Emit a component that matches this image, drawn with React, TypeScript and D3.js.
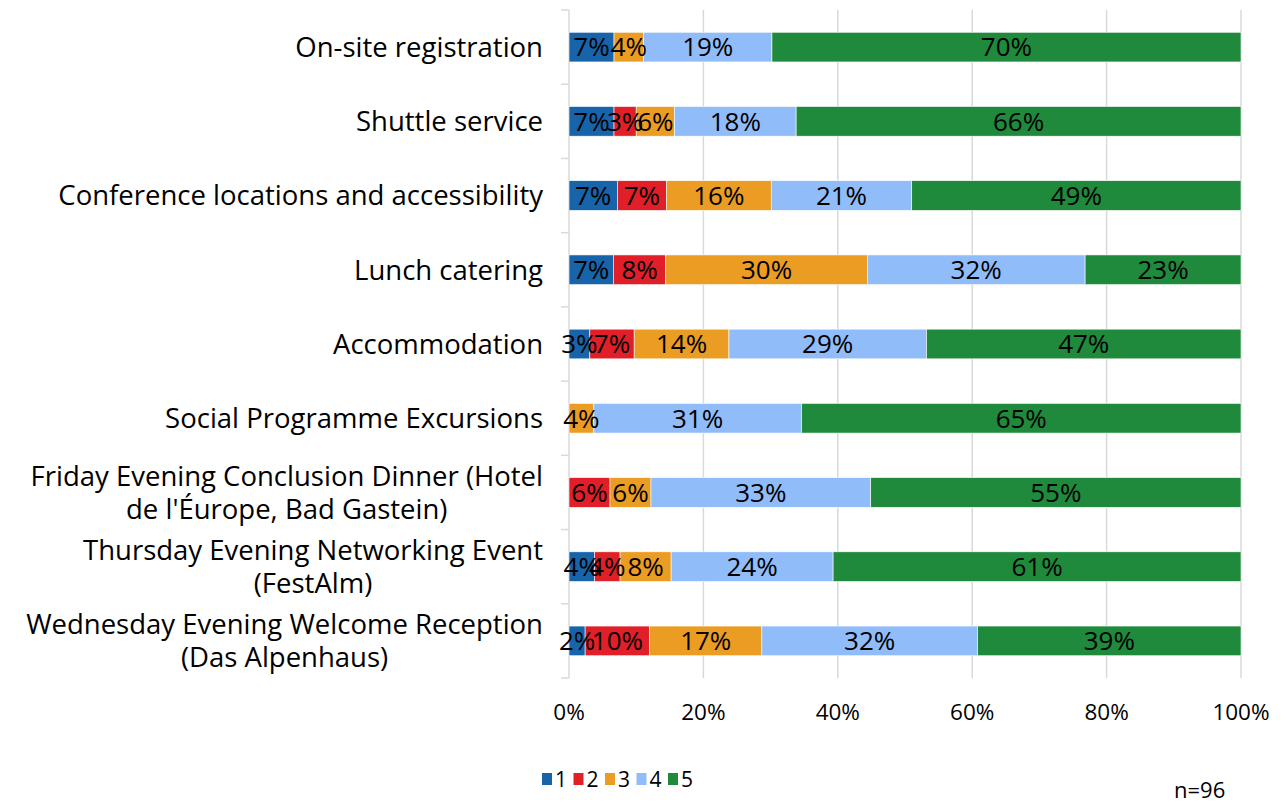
import React, { useEffect, useRef } from "react";
import * as d3 from "d3";

const categories = [
  "On-site registration",
  "Shuttle service",
  "Conference locations and accessibility",
  "Lunch catering",
  "Accommodation",
  "Social Programme Excursions",
  "Friday Evening Conclusion Dinner (Hotel|de l'Éurope, Bad Gastein)",
  "Thursday Evening Networking Event|(FestAlm)",
  "Wednesday Evening Welcome Reception|(Das Alpenhaus)",
];

const seriesNames = ["1", "2", "3", "4", "5"];
const seriesColors = ["#1764AA", "#E11F28", "#EB9C22", "#90BCFA", "#1F8A3B"];

// share of answers per rating, in %
const rating1 = [6.7, 6.7, 7.2, 6.6, 3.1, 0, 0, 3.8, 2.4];
const rating2 = [0, 3.3, 7.3, 7.8, 6.6, 0, 6.1, 3.8, 9.6];
const rating3 = [4.4, 5.7, 15.6, 30.0, 14.1, 3.7, 6.1, 7.6, 16.7];
const rating4 = [19.1, 18.1, 20.9, 32.4, 29.4, 30.9, 32.7, 24.1, 32.1];
const rating5 = [69.8, 66.2, 49.0, 23.2, 46.8, 65.4, 55.1, 60.7, 39.2];

const xTicks = [0, 20, 40, 60, 80, 100];
const sampleNote = "n=96";

const FONT = "'Open Sans', sans-serif";

export default function App() {
  const svgRef = useRef<SVGSVGElement>(null);

  useEffect(() => {
    const svg = d3.select(svgRef.current);
    svg.selectAll("*").remove();

    const left = 569;
    const right = 1241;
    const top = 10;
    const bottom = 678;

    const x = d3.scaleLinear().domain([0, 100]).range([left, right]);
    const y = d3
      .scaleBand()
      .domain(categories)
      .range([top, bottom])
      .paddingInner(0.6)
      .paddingOuter(0.3);

    const rows = categories.map((c, i) => {
      const vals = [rating1[i], rating2[i], rating3[i], rating4[i], rating5[i]];
      let acc = 0;
      return vals.map((v, k) => {
        const seg = { cat: c, k, v, x0: acc, x1: acc + v };
        acc += v;
        return seg;
      });
    });

    // gridlines
    svg
      .append("g")
      .selectAll("line")
      .data(xTicks.slice(1))
      .enter()
      .append("line")
      .attr("x1", (d) => x(d))
      .attr("x2", (d) => x(d))
      .attr("y1", top)
      .attr("y2", bottom)
      .attr("stroke", "#d9d9d9")
      .attr("stroke-width", 1.5);

    // y axis line + ticks at band boundaries
    const step = y.step();
    const boundaries = d3.range(categories.length + 1).map((i) => top + i * step);
    svg
      .append("line")
      .attr("x1", left)
      .attr("x2", left)
      .attr("y1", top)
      .attr("y2", bottom)
      .attr("stroke", "#d9d9d9")
      .attr("stroke-width", 1.5);
    svg
      .append("g")
      .selectAll("line")
      .data(boundaries)
      .enter()
      .append("line")
      .attr("x1", left - 8)
      .attr("x2", left)
      .attr("y1", (d) => d)
      .attr("y2", (d) => d)
      .attr("stroke", "#d9d9d9")
      .attr("stroke-width", 1.5);

    // bars
    const segs = rows.flat().filter((s) => s.v > 0);
    svg
      .append("g")
      .selectAll("rect")
      .data(segs)
      .enter()
      .append("rect")
      .attr("x", (d) => x(d.x0))
      .attr("width", (d) => x(d.x1) - x(d.x0))
      .attr("y", (d) => y(d.cat)!)
      .attr("height", y.bandwidth())
      .attr("fill", (d) => seriesColors[d.k])
      .attr("stroke", "#ffffff")
      .attr("stroke-width", 0.6);

    svg
      .append("g")
      .selectAll("text")
      .data(segs)
      .enter()
      .append("text")
      .attr("x", (d) => (x(d.x0) + x(d.x1)) / 2)
      .attr("y", (d) => y(d.cat)! + y.bandwidth() / 2)
      .attr("dy", "0.36em")
      .attr("text-anchor", "middle")
      .attr("font-family", FONT)
      .attr("font-size", 26)
      .attr("fill", "#000")
      .text((d) => `${Math.round(d.v)}%`);

    // category labels
    const labelX = 543;
    const lineH = 33;
    categories.forEach((c) => {
      const lines = c.split("|");
      const cy = y(c)! + y.bandwidth() / 2;
      const g = svg.append("g");
      const texts = lines.map((ln, i) =>
        g
          .append("text")
          .attr("y", cy + (i - (lines.length - 1) / 2) * lineH)
          .attr("dy", "0.36em")
          .attr("font-family", FONT)
          .attr("font-size", 27.5)
          .attr("fill", "#000")
          .text(ln)
      );
      const widths = texts.map((t) => (t.node() as SVGTextElement).getComputedTextLength());
      const maxW = d3.max(widths) || 0;
      texts.forEach((t) => {
        t.attr("x", labelX - maxW / 2).attr("text-anchor", "middle");
      });
    });

    // x tick labels
    svg
      .append("g")
      .selectAll("text")
      .data(xTicks)
      .enter()
      .append("text")
      .attr("x", (d) => x(d))
      .attr("y", 720)
      .attr("text-anchor", "middle")
      .attr("font-family", FONT)
      .attr("font-size", 22.5)
      .attr("fill", "#000")
      .text((d) => `${d}%`);

    // legend
    const legendX = d3.scalePoint().domain(seriesNames).range([542, 668]);
    const lg = svg.append("g");
    seriesNames.forEach((s, i) => {
      lg.append("rect")
        .attr("x", legendX(s)!)
        .attr("y", 773)
        .attr("width", 10)
        .attr("height", 12)
        .attr("fill", seriesColors[i]);
      lg.append("text")
        .attr("x", legendX(s)! + 13)
        .attr("y", 787)
        .attr("font-family", FONT)
        .attr("font-size", 21)
        .attr("fill", "#000")
        .text(s);
    });

    svg
      .append("text")
      .attr("x", 1174)
      .attr("y", 798)
      .attr("font-family", FONT)
      .attr("font-size", 22)
      .attr("fill", "#000")
      .text(sampleNote);
  }, []);

  return (
    <svg
      ref={svgRef}
      width={1288}
      height={804}
      style={{ position: "absolute", left: 0, top: 0, background: "#fff" }}
    />
  );
}
